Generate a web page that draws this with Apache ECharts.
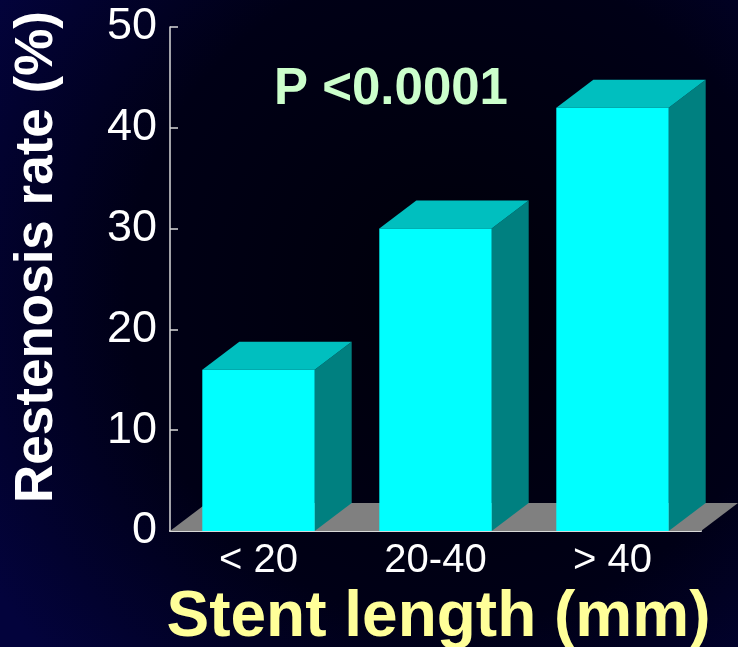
<!DOCTYPE html>
<html>
<head>
<meta charset="utf-8">
<script src="https://cdn.jsdelivr.net/npm/echarts@6/dist/echarts.min.js"></script>
<style>
html,body{margin:0;padding:0;background:#00000e;}
#chart{width:738px;height:647px;}
</style>
</head>
<body>
<div id="chart"></div>
<script>
var categories = ['< 20', '20-40', '> 40'];
var restenosisRate = [16, 30, 42];
var yTicks = [0, 10, 20, 30, 40, 50];

var DX = 37, DY = -28;
var FONT = '"Liberation Sans", Arial, Helvetica, sans-serif';

var chart = echarts.init(document.getElementById('chart'), null, {renderer: 'canvas'});

function renderFloor(params, api) {
  var cs = params.coordSys;
  var x0 = cs.x, x1 = cs.x + cs.width;
  var y0 = api.coord([0, 0])[1];
  return {
    type: 'polygon',
    shape: {points: [[x0, y0], [x1, y0], [x1 + DX, y0 + DY], [x0 + DX, y0 + DY]]},
    style: {fill: '#808080', stroke: null},
    silent: true
  };
}

function renderBar(params, api) {
  var idx = api.value(0);
  var val = api.value(1);
  var top = api.coord([idx, val]);
  var base = api.coord([idx, 0]);
  var w = api.size([1, 0])[0] * 0.635;
  var xl = top[0] - w / 2, xr = top[0] + w / 2;
  var yt = top[1], yb = base[1];
  return {
    type: 'group',
    children: [
      {type: 'polygon', shape: {points: [[xr, yt], [xr + DX, yt + DY], [xr + DX, yb + DY], [xr, yb]]}, style: {fill: '#008080'}},
      {type: 'polygon', shape: {points: [[xl, yt], [xl + DX, yt + DY], [xr + DX, yt + DY], [xr, yt]]}, style: {fill: '#00BFBF'}},
      {type: 'rect', shape: {x: xl, y: yt, width: w, height: yb - yt}, style: {fill: '#00FFFF'}}
    ]
  };
}

var option = {
  backgroundColor: {
    type: 'radial', x: 0.62, y: 0.45, r: 0.85,
    colorStops: [{offset: 0, color: '#00000a'}, {offset: 0.6, color: '#000016'}, {offset: 1, color: '#03033c'}]
  },
  animation: false,
  grid: {left: 170, right: 37, top: 27, bottom: 116, containLabel: false, outerBoundsMode: 'none'},
  title: [{
    text: 'P <0.0001',
    left: 386, top: 59, textAlign: 'center',
    textStyle: {color: '#CCFFCC', fontSize: 51, fontWeight: 'bold', fontFamily: FONT}
  }],
  xAxis: {
    type: 'category',
    data: categories,
    boundaryGap: true,
    axisLine: {show: true, lineStyle: {color: '#d8d8d8', width: 2}},
    axisTick: {show: false},
    axisLabel: {color: '#ffffff', fontSize: 40, fontFamily: FONT, margin: 10},
    name: 'Stent length (mm)',
    nameLocation: 'middle',
    nameGap: 48,
    nameTextStyle: {color: '#FFFF99', fontSize: 64, fontWeight: 'bold', fontFamily: FONT, padding: [0, 0, 0, 6]}
  },
  yAxis: {
    type: 'value',
    min: 0, max: 50, interval: 10,
    axisLine: {show: true, lineStyle: {color: '#d8d8d8', width: 1.5}},
    axisTick: {show: true, inside: true, length: 8, lineStyle: {color: '#d8d8d8', width: 1.5}},
    splitLine: {show: false},
    axisLabel: {color: '#ffffff', fontSize: 45, fontFamily: FONT, margin: 13,
      formatter: function (v) { return yTicks.indexOf(v) >= 0 ? String(v) : ''; }},
    name: 'Restenosis rate (%)',
    nameLocation: 'middle',
    nameGap: 106,
    nameTextStyle: {color: '#ffffff', fontSize: 53, fontWeight: 'bold', fontFamily: FONT, padding: [0, 0, 0, 44]}
  },
  series: [
    {
      type: 'custom',
      renderItem: renderFloor,
      data: [[0, 0]],
      z: 1,
      silent: true
    },
    {
      type: 'custom',
      renderItem: renderBar,
      encode: {x: 0, y: 1},
      data: restenosisRate.map(function (v, i) { return [i, v]; }),
      z: 3
    }
  ]
};
chart.setOption(option);
</script>
</body>
</html>
